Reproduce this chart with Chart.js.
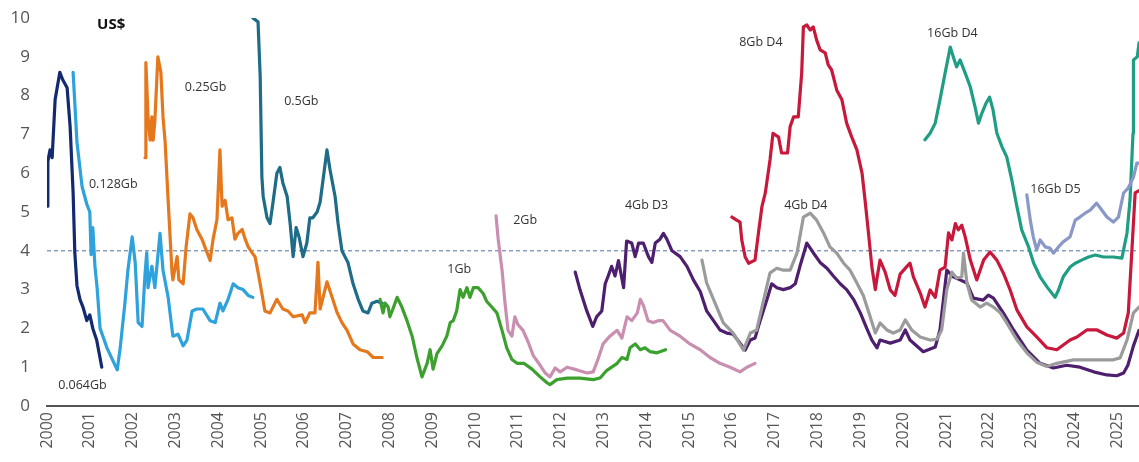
<!DOCTYPE html>
<html>
<head>
<meta charset="utf-8">
<script src="https://cdn.jsdelivr.net/npm/chart.js@4.4.1/dist/chart.umd.min.js"></script>
<style>
  body { margin: 0; background: #fff; }
  #wrap { width: 1139px; height: 462px; }
</style>
</head>
<body>
<div id="wrap"><canvas id="dramChart"></canvas></div>
<script>
// DRAM contract prices by generation, US$ ([year, price])
const mb64 = [[2000.0,5.15],[2000.02,6.3],[2000.07,6.6],[2000.12,6.4],[2000.19,7.9],[2000.30,8.6],[2000.37,8.4],[2000.47,8.2],[2000.54,7.2],[2000.61,5.5],[2000.65,3.95],[2000.70,3.1],[2000.77,2.75],[2000.84,2.55],[2000.93,2.2],[2001.0,2.35],[2001.07,2.0],[2001.16,1.7],[2001.28,1.0]];
const mb128 = [[2000.61,8.6],[2000.70,6.8],[2000.82,5.65],[2000.93,5.2],[2001.0,5.0],[2001.03,3.9],[2001.07,4.6],[2001.12,3.6],[2001.17,3.05],[2001.24,2.0],[2001.40,1.5],[2001.64,0.93],[2001.71,1.5],[2001.82,2.65],[2001.89,3.5],[2001.99,4.36],[2002.06,3.7],[2002.13,2.15],[2002.22,2.05],[2002.29,3.4],[2002.33,3.95],[2002.36,3.05],[2002.45,3.6],[2002.52,3.05],[2002.64,4.45],[2002.71,3.5],[2002.83,2.8],[2002.94,1.8],[2003.06,1.85],[2003.18,1.55],[2003.27,1.7],[2003.39,2.45],[2003.50,2.5],[2003.64,2.5],[2003.81,2.2],[2003.93,2.15],[2004.04,2.65],[2004.11,2.45],[2004.23,2.75],[2004.35,3.15],[2004.46,3.05],[2004.58,3.0],[2004.70,2.85],[2004.81,2.8]];
const mb256 = [[2002.29,6.4],[2002.31,8.85],[2002.36,7.45],[2002.41,6.85],[2002.45,7.45],[2002.48,6.85],[2002.52,7.35],[2002.59,9.0],[2002.66,8.6],[2002.71,7.45],[2002.76,6.8],[2002.83,5.3],[2002.92,3.45],[2002.94,3.25],[2003.04,3.85],[2003.08,3.25],[2003.18,3.15],[2003.25,4.1],[2003.34,4.95],[2003.41,4.85],[2003.50,4.55],[2003.62,4.3],[2003.74,3.95],[2003.81,3.75],[2003.88,4.3],[2003.97,4.8],[2004.04,6.6],[2004.09,5.15],[2004.16,5.3],[2004.23,4.8],[2004.32,4.85],[2004.39,4.3],[2004.46,4.45],[2004.56,4.55],[2004.63,4.3],[2004.70,4.1],[2004.79,3.95],[2004.86,3.85],[2004.93,3.45],[2005.02,2.9],[2005.09,2.45],[2005.21,2.4],[2005.37,2.75],[2005.51,2.5],[2005.63,2.45],[2005.75,2.3],[2005.96,2.35],[2006.03,2.15],[2006.14,2.4],[2006.26,2.4],[2006.33,3.7],[2006.38,2.5],[2006.54,3.2],[2006.66,2.8],[2006.78,2.4],[2006.89,2.15],[2007.01,1.95],[2007.15,1.6],[2007.31,1.45],[2007.48,1.4],[2007.62,1.25],[2007.83,1.25]];
const mb512 = [[2004.81,10.0],[2004.93,9.9],[2004.98,8.5],[2005.02,5.9],[2005.05,5.4],[2005.14,4.85],[2005.21,4.7],[2005.28,5.25],[2005.37,6.0],[2005.44,6.15],[2005.51,5.75],[2005.61,5.4],[2005.68,4.7],[2005.75,3.85],[2005.82,4.6],[2005.89,4.35],[2005.98,3.85],[2006.07,4.2],[2006.14,4.85],[2006.21,4.85],[2006.31,5.0],[2006.38,5.25],[2006.54,6.6],[2006.61,6.1],[2006.73,5.4],[2006.80,4.7],[2006.89,4.0],[2006.96,3.85],[2007.03,3.7],[2007.15,3.15],[2007.27,2.75],[2007.38,2.45],[2007.50,2.4],[2007.59,2.65],[2007.71,2.7],[2007.83,2.65]];
const gb1 = [[2007.78,2.75],[2007.85,2.4],[2007.90,2.65],[2007.97,2.55],[2008.01,2.3],[2008.08,2.5],[2008.18,2.8],[2008.29,2.55],[2008.41,2.2],[2008.53,1.8],[2008.64,1.25],[2008.76,0.75],[2008.88,1.1],[2008.95,1.45],[2009.02,0.95],[2009.11,1.35],[2009.23,1.55],[2009.34,1.8],[2009.42,2.15],[2009.49,2.2],[2009.57,2.45],[2009.65,3.0],[2009.72,2.8],[2009.81,3.05],[2009.88,2.8],[2009.96,3.05],[2010.07,3.05],[2010.19,2.9],[2010.27,2.7],[2010.39,2.55],[2010.51,2.4],[2010.63,1.95],[2010.74,1.5],[2010.86,1.2],[2010.98,1.1],[2011.14,1.1],[2011.33,0.95],[2011.52,0.75],[2011.68,0.6],[2011.75,0.55],[2011.91,0.68],[2012.15,0.72],[2012.45,0.72],[2012.76,0.68],[2012.92,0.72],[2013.08,0.92],[2013.32,1.1],[2013.43,1.25],[2013.55,1.2],[2013.62,1.5],[2013.74,1.6],[2013.86,1.45],[2013.97,1.5],[2014.09,1.4],[2014.25,1.37],[2014.45,1.45]];
const gb2 = [[2010.49,4.9],[2010.54,4.3],[2010.63,3.5],[2010.70,2.65],[2010.77,1.95],[2010.86,1.8],[2010.93,2.3],[2011.0,2.1],[2011.12,1.95],[2011.24,1.65],[2011.36,1.3],[2011.52,1.05],[2011.64,0.85],[2011.75,0.75],[2011.87,0.98],[2011.99,0.88],[2012.15,1.0],[2012.38,0.93],[2012.62,0.85],[2012.76,0.88],[2012.87,1.2],[2012.99,1.6],[2013.15,1.8],[2013.32,1.95],[2013.43,1.75],[2013.55,2.3],[2013.66,2.2],[2013.79,2.4],[2013.86,2.75],[2013.93,2.6],[2014.04,2.2],[2014.16,2.15],[2014.28,2.2],[2014.39,2.2],[2014.56,1.95],[2014.79,1.8],[2015.02,1.6],[2015.26,1.45],[2015.49,1.25],[2015.72,1.1],[2015.96,1.0],[2016.19,0.88],[2016.35,1.0],[2016.54,1.1]];
const gb4d3 = [[2012.34,3.45],[2012.45,3.0],[2012.61,2.45],[2012.75,2.05],[2012.84,2.3],[2012.96,2.45],[2013.04,3.15],[2013.11,3.35],[2013.19,3.6],[2013.27,3.35],[2013.35,3.75],[2013.47,3.05],[2013.54,4.25],[2013.66,4.2],[2013.74,3.85],[2013.82,4.2],[2013.93,4.2],[2014.05,3.85],[2014.13,3.7],[2014.21,4.2],[2014.32,4.3],[2014.40,4.45],[2014.48,4.3],[2014.60,4.0],[2014.79,3.85],[2014.95,3.6],[2015.10,3.25],[2015.26,2.95],[2015.41,2.45],[2015.57,2.2],[2015.72,1.96],[2015.88,1.88],[2016.03,1.85],[2016.19,1.62],[2016.31,1.44],[2016.43,1.7],[2016.54,1.75],[2016.66,2.2],[2016.82,2.75],[2016.93,3.15],[2017.05,3.05],[2017.20,3.0],[2017.36,3.05],[2017.48,3.15],[2017.59,3.6],[2017.75,4.2],[2017.90,3.95],[2018.06,3.7],[2018.22,3.55],[2018.37,3.35],[2018.53,3.15],[2018.68,3.0],[2018.84,2.75],[2019.00,2.4],[2019.15,2.0],[2019.27,1.7],[2019.39,1.5],[2019.46,1.7],[2019.70,1.62],[2019.93,1.7],[2020.05,1.96],[2020.16,1.7],[2020.47,1.4],[2020.75,1.52],[2020.86,1.96],[2021.02,3.5],[2021.17,3.33],[2021.33,3.25],[2021.49,3.17],[2021.64,2.78],[2021.87,2.73],[2021.99,2.86],[2022.11,2.78],[2022.34,2.4],[2022.58,1.96],[2022.89,1.44],[2023.20,1.1],[2023.51,0.98],[2023.82,1.05],[2024.13,1.0],[2024.45,0.88],[2024.76,0.8],[2024.99,0.78],[2025.15,0.85],[2025.25,1.05],[2025.38,1.55],[2025.51,1.95]];
const gb4d4 = [[2015.30,3.76],[2015.41,3.17],[2015.57,2.75],[2015.80,2.14],[2016.03,1.88],[2016.27,1.44],[2016.43,1.88],[2016.58,1.96],[2016.74,2.73],[2016.89,3.43],[2017.05,3.55],[2017.20,3.5],[2017.36,3.5],[2017.52,3.94],[2017.67,4.87],[2017.83,4.97],[2017.98,4.79],[2018.14,4.46],[2018.29,4.1],[2018.45,3.94],[2018.61,3.68],[2018.76,3.5],[2018.92,3.17],[2019.07,2.85],[2019.23,2.3],[2019.35,1.88],[2019.46,2.14],[2019.62,1.96],[2019.77,1.88],[2019.93,1.96],[2020.05,2.22],[2020.20,1.96],[2020.40,1.78],[2020.63,1.7],[2020.79,1.72],[2020.90,1.96],[2021.02,3.0],[2021.14,3.45],[2021.25,3.3],[2021.37,3.33],[2021.41,3.94],[2021.49,3.17],[2021.60,2.73],[2021.80,2.55],[2021.95,2.65],[2022.11,2.55],[2022.27,2.4],[2022.42,2.14],[2022.66,1.7],[2022.89,1.37],[2023.12,1.13],[2023.36,1.02],[2023.59,1.1],[2023.98,1.19],[2024.29,1.19],[2024.60,1.19],[2024.91,1.19],[2025.07,1.24],[2025.23,1.7],[2025.38,2.4],[2025.51,2.55]];
const gb8d4 = [[2016.00,4.87],[2016.11,4.79],[2016.19,4.74],[2016.23,4.28],[2016.31,3.84],[2016.39,3.68],[2016.54,3.76],[2016.62,4.46],[2016.70,5.13],[2016.78,5.49],[2016.89,6.34],[2016.96,7.03],[2017.09,6.93],[2017.16,6.52],[2017.30,6.52],[2017.36,7.2],[2017.44,7.45],[2017.55,7.45],[2017.63,8.58],[2017.67,9.77],[2017.75,9.82],[2017.83,9.69],[2017.90,9.77],[2017.98,9.43],[2018.06,9.18],[2018.18,9.1],[2018.25,8.79],[2018.33,8.66],[2018.45,8.14],[2018.57,7.89],[2018.68,7.29],[2018.80,6.93],[2018.92,6.6],[2019.04,6.0],[2019.11,5.31],[2019.19,4.46],[2019.27,3.58],[2019.35,3.0],[2019.39,3.3],[2019.46,3.76],[2019.58,3.45],[2019.70,2.99],[2019.81,2.85],[2019.93,3.4],[2020.09,3.6],[2020.16,3.68],[2020.24,3.33],[2020.40,2.91],[2020.51,2.55],[2020.63,2.99],[2020.75,2.8],[2020.86,3.5],[2020.98,3.58],[2021.06,4.46],[2021.14,4.28],[2021.22,4.7],[2021.29,4.54],[2021.37,4.66],[2021.45,4.36],[2021.57,3.76],[2021.72,3.25],[2021.88,3.76],[2022.03,3.97],[2022.19,3.76],[2022.34,3.43],[2022.50,2.99],[2022.66,2.47],[2022.89,2.04],[2023.12,1.78],[2023.36,1.5],[2023.59,1.45],[2023.90,1.7],[2024.06,1.78],[2024.29,1.96],[2024.53,1.96],[2024.76,1.83],[2024.99,1.75],[2025.15,1.88],[2025.26,2.4],[2025.34,3.94],[2025.42,5.49],[2025.51,5.55]];
const gb16d4 = [[2020.51,6.86],[2020.63,7.03],[2020.75,7.29],[2020.86,7.89],[2020.98,8.58],[2021.10,9.25],[2021.18,8.97],[2021.25,8.74],[2021.33,8.92],[2021.45,8.58],[2021.57,8.22],[2021.68,7.71],[2021.76,7.29],[2021.84,7.55],[2021.94,7.81],[2022.02,7.96],[2022.10,7.63],[2022.19,7.03],[2022.31,6.68],[2022.42,6.42],[2022.54,5.82],[2022.66,5.13],[2022.77,4.54],[2022.93,4.1],[2023.05,3.68],[2023.20,3.33],[2023.36,3.07],[2023.55,2.8],[2023.63,2.99],[2023.74,3.33],[2023.90,3.58],[2024.02,3.68],[2024.17,3.76],[2024.33,3.84],[2024.49,3.89],[2024.68,3.84],[2024.91,3.84],[2025.11,3.81],[2025.23,4.46],[2025.30,5.31],[2025.37,7.03],[2025.38,8.92],[2025.47,9.0],[2025.51,9.36]];
const gb16d5 = [[2022.89,5.44],[2022.97,4.79],[2023.04,4.36],[2023.12,4.02],[2023.20,4.28],[2023.32,4.1],[2023.43,4.07],[2023.51,3.94],[2023.63,4.1],[2023.74,4.23],[2023.90,4.36],[2024.02,4.79],[2024.13,4.87],[2024.25,4.97],[2024.37,5.05],[2024.52,5.23],[2024.64,5.05],[2024.76,4.87],[2024.91,4.74],[2025.03,4.87],[2025.15,5.49],[2025.26,5.62],[2025.38,5.9],[2025.46,6.26],[2025.51,6.26]];

const yearTicks = [2000, 2025];
const refLevel = 4;

// text labels placed at [year, price]
const seriesLabels = [
    ['0.064Gb', 2000.26, 0.54],
    ['0.128Gb', 2000.98, 5.70],
    ['0.25Gb', 2003.22, 8.20],
    ['0.5Gb', 2005.54, 7.86],
    ['1Gb', 2009.35, 3.53],
    ['2Gb', 2010.89, 4.77],
    ['4Gb D3', 2013.50, 5.18],
    ['8Gb D4', 2016.17, 9.38],
    ['4Gb D4', 2017.22, 5.18],
    ['16Gb D4', 2020.56, 9.61],
    ['16Gb D5', 2022.97, 5.57]
];

const toXY = arr => arr.map(([x, y]) => ({ x: x, y: y }));

function line(data, color) {
    return {
        data: toXY(data),
        borderColor: color,
        borderWidth: 3.2,
        pointRadius: 0,
        tension: 0,
        fill: false,
        borderJoinStyle: 'round',
        borderCapStyle: 'round'
    };
}

// annotation text drawn on top of the lines
const labelPlugin = {
    id: 'seriesLabels',
    afterDatasetsDraw(chart) {
        const ctx = chart.ctx;
        const xs = chart.scales.x;
        const ys = chart.scales.y;
        ctx.save();
        ctx.textBaseline = 'middle';
        ctx.textAlign = 'left';
        ctx.fillStyle = '#333';
        ctx.font = '12.5px "Open Sans"';
        seriesLabels.forEach(l => {
            ctx.fillText(l[0], xs.getPixelForValue(l[1]), ys.getPixelForValue(l[2]));
        });
        ctx.font = 'bold 15px "Open Sans"';
        ctx.fillStyle = '#111';
        ctx.fillText('US$', xs.getPixelForValue(2001.17), ys.getPixelForValue(9.82));
        ctx.restore();
    }
};

const ctx = document.getElementById('dramChart').getContext('2d');
const dramChart = new Chart(ctx, {
    type: 'line',
    data: {
        datasets: [
            line(gb8d4, '#c8193c'),
            line(gb4d4, '#9b9b9b'),
            line(gb4d3, '#4d1f6e'),
            line(gb16d5, '#8a98c8'),
            line(gb16d4, '#1f9e83'),
            line(gb2, '#c98fb0'),
            line(gb1, '#3ca02e'),
            line(mb512, '#1e6c88'),
            line(mb256, '#e5781c'),
            line(mb128, '#2ea2dc'),
            line(mb64, '#142a70'),
            {
                data: toXY([[yearTicks[0], refLevel], [2025.6, refLevel]]),
                borderColor: '#4f6fa0',
                borderWidth: 1,
                borderDash: [4, 3],
                pointRadius: 0
            }
        ]
    },
    options: {
        responsive: true,
        maintainAspectRatio: false,
        animation: false,
        layout: { padding: { top: 18, right: 0, left: 0, bottom: 0 } },
        plugins: {
            legend: { display: false },
            tooltip: { enabled: false }
        },
        scales: {
            x: {
                type: 'linear',
                min: yearTicks[0],
                max: 2025.51,
                grid: { display: false, drawTicks: false },
                border: { display: true, color: '#555', width: 2 },
                ticks: {
                    stepSize: 1,
                    includeBounds: false,
                    minRotation: 90,
                    maxRotation: 90,
                    autoSkip: false,
                    padding: 6,
                    color: '#555',
                    font: { family: 'Open Sans', size: 16 },
                    callback: v => String(v)
                },
                afterFit: s => { s.height = 56; s.paddingLeft = 0; s.paddingRight = 0; }
            },
            y: {
                min: 0,
                max: 10,
                grid: { display: false, drawTicks: false },
                border: { display: false },
                ticks: {
                    stepSize: 1,
                    padding: 17,
                    color: '#555',
                    font: { family: 'Open Sans', size: 17 }
                },
                afterFit: s => { s.width = 47; s.paddingTop = 0; s.paddingBottom = 0; }
            }
        }
    },
    plugins: [labelPlugin]
});
</script>
</body>
</html>
